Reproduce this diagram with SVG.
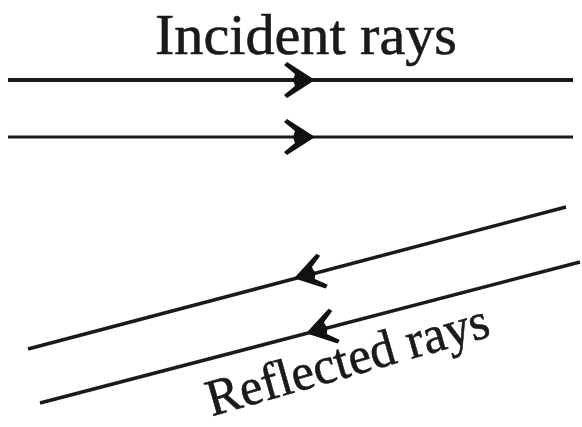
<svg xmlns="http://www.w3.org/2000/svg" xmlns:xlink="http://www.w3.org/1999/xlink" width="582" height="427" viewBox="0 0 582 427">
<style>
.ray{stroke:#1a1a1a;fill:none;stroke-linecap:butt}
.lbl{font-family:"Liberation Serif","Times New Roman",serif;fill:#1a1a1a;stroke:#1a1a1a;stroke-width:0.6}
.ah{fill:#111}
</style>
<defs>
<polygon id="ah" class="ah" points="1,0 -27,-18 -30,-15 -19,-6 -21,0 -19,6 -30,15 -27,18"/>
</defs>
<rect width="582" height="427" fill="#fff"/>
<g id="connectors">
<line class="ray" x1="8" y1="80" x2="573" y2="80" stroke-width="4"/>
<use xlink:href="#ah" transform="translate(314,80)"/>
<line class="ray" x1="8" y1="137" x2="573" y2="137" stroke-width="3"/>
<use xlink:href="#ah" transform="translate(314,137)"/>
<line class="ray" x1="28" y1="349" x2="566" y2="207" stroke-width="3.5"/>
<use xlink:href="#ah" transform="translate(295,278) rotate(165.2)"/>
<line class="ray" x1="40" y1="403" x2="580" y2="262" stroke-width="3.5"/>
<use xlink:href="#ah" transform="translate(307,333) rotate(165.4)"/>
</g>
<g id="incident-label">
<text class="lbl" x="306" y="54" font-size="57" text-anchor="middle" textLength="302" lengthAdjust="spacingAndGlyphs">Incident rays</text>
</g>
<g id="reflected-label">
<text class="lbl" x="0" y="0" font-size="52" text-anchor="middle" textLength="292" lengthAdjust="spacingAndGlyphs" transform="translate(352,376) rotate(-16)">Reflected rays</text>
</g>
</svg>
